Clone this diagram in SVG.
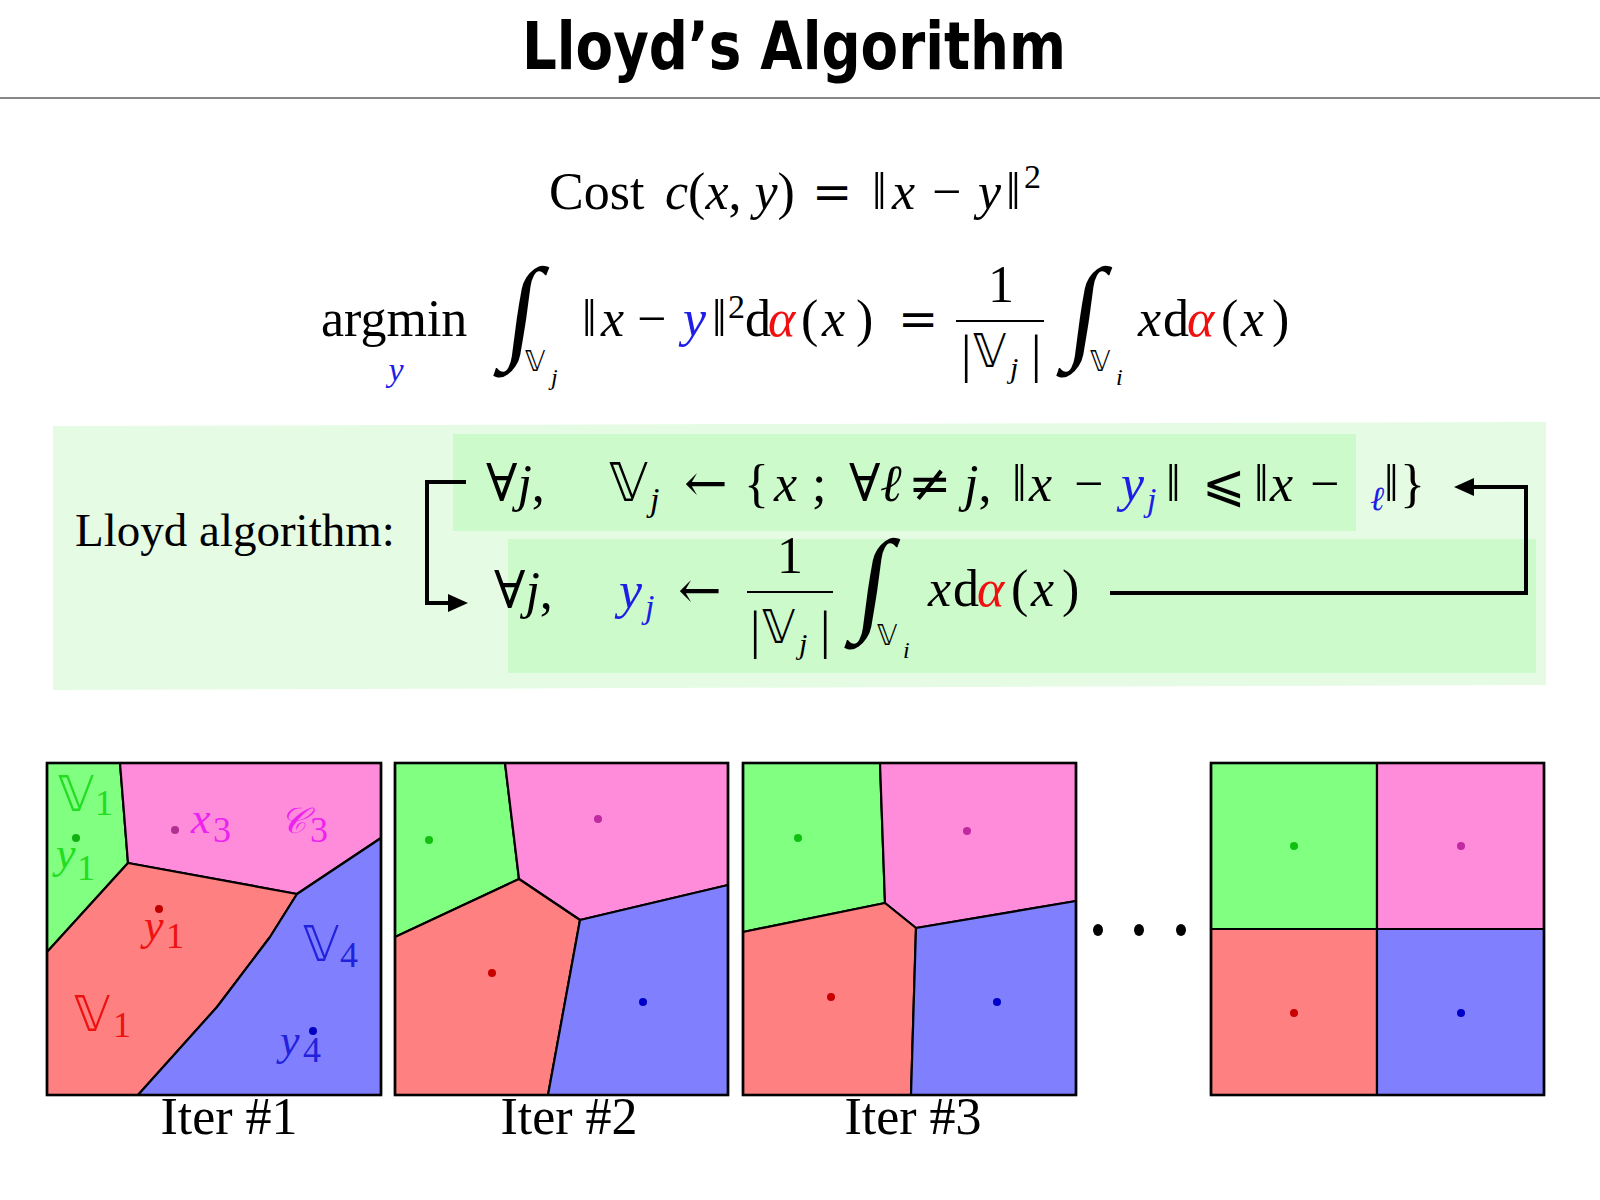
<svg xmlns="http://www.w3.org/2000/svg" width="1600" height="1200" viewBox="0 0 1600 1200">
<defs>
<style>
.m{font-family:"Liberation Serif","DejaVu Serif","DejaVu Sans",serif;font-size:52px;fill:#000}
.i{font-style:italic}
.bb{font-family:"DejaVu Sans","DejaVu Serif",sans-serif;font-style:normal}
.op{font-family:"DejaVu Serif","Liberation Serif",serif;font-style:normal}
.blue{fill:#1e1ee6}
.red{fill:#f01010}
.int{font-family:"Liberation Serif","DejaVu Serif",serif;font-size:60px}
.lbl{font-family:"Liberation Serif","DejaVu Serif",serif;font-size:44px}
.cell{stroke:#000;stroke-width:2.2;stroke-linejoin:round}
.frame{fill:none;stroke:#000;stroke-width:2.6}
.g{fill:#80ff80}.p{fill:#ff8bdb}.r{fill:#ff8080}.b{fill:#8080ff}
.conn{fill:none;stroke:#000;stroke-width:4}
</style>
<marker id="ah" markerUnits="userSpaceOnUse" markerWidth="20" markerHeight="18" refX="0" refY="9" orient="auto">
<path d="M0,0 L20,9 L0,18 z" fill="#000"/>
</marker>
</defs>
<rect width="1600" height="1200" fill="#fff"/>

<g id="title">
<text x="522" y="69" font-family="DejaVu Sans,sans-serif" font-weight="bold" font-size="66" textLength="544" lengthAdjust="spacingAndGlyphs">Lloyd’s Algorithm</text>
<line x1="0" y1="98" x2="1600" y2="98" stroke="#888" stroke-width="2"/>
</g>

<g id="eq-cost" class="m">
<text y="209"><tspan x="549">Cost</tspan><tspan x="665" class="i">c</tspan><tspan>(</tspan><tspan class="i">x</tspan><tspan>, </tspan><tspan class="i">y</tspan><tspan>)</tspan></text>
<text x="812" y="209" class="op" font-size="48">=</text>
<text y="209"><tspan x="872">‖</tspan><tspan x="892" class="i">x</tspan><tspan x="932">−</tspan><tspan x="978" class="i">y</tspan><tspan x="1006">‖</tspan></text>
<text x="1024" y="188" font-size="34">2</text>
</g>

<g id="eq-argmin" class="m">
<text x="321" y="336">argmin</text>
<text x="396" y="381" class="i blue" font-size="34" text-anchor="middle">y</text>
<text class="int" transform="translate(503,347) skewX(-8) scale(1.8,1.9)">∫</text>
<text x="525" y="371" class="bb" font-size="28">𝕍</text>
<text x="551" y="385" class="i" font-size="24">j</text>
<text y="336"><tspan x="582">‖</tspan><tspan x="601" class="i">x</tspan><tspan x="637">−</tspan><tspan x="683" class="i blue">y</tspan><tspan x="712">‖</tspan></text>
<text x="728" y="318" font-size="34">2</text>
<text y="336"><tspan x="745">d</tspan><tspan x="768" class="i red">α</tspan><tspan x="801">(</tspan><tspan x="822" class="i">x</tspan><tspan x="856">)</tspan></text>
<text x="898" y="336" class="op" font-size="48">=</text>
<text x="1001" y="302" text-anchor="middle">1</text>
<line x1="956" y1="321" x2="1044" y2="321" stroke="#000" stroke-width="2.2"/>
<text x="961" y="372">|</text>
<text x="973" y="367" class="bb" font-size="46">𝕍</text>
<text x="1010" y="378" class="i" font-size="30">j</text>
<text x="1031" y="372">|</text>
<text class="int" transform="translate(1066,347) skewX(-8) scale(1.8,1.9)">∫</text>
<text x="1090" y="371" class="bb" font-size="28">𝕍</text>
<text x="1116" y="385" class="i" font-size="24">i</text>
<text y="336"><tspan x="1138" class="i">x</tspan><tspan x="1163">d</tspan><tspan x="1187" class="i red">α</tspan><tspan x="1221">(</tspan><tspan x="1241" class="i">x</tspan><tspan x="1272">)</tspan></text>
</g>

<g id="lloyd-box">
<path d="M53,426 L1546,422 L1546,685 L53,690 z" fill="#e5fbe3"/>
<rect x="453" y="434" width="903" height="97" fill="#cdfacb"/>
<rect x="508" y="539" width="1028" height="134" fill="#cdfacb"/>
<text x="75" y="546" class="m" style="font-size:47px">Lloyd algorithm:</text>
</g>

<g id="step-assign" class="m">
<text y="501"><tspan x="486">∀</tspan><tspan class="i">j</tspan><tspan>,</tspan></text>
<text x="609" y="501" class="bb" font-size="54">𝕍</text>
<text x="650" y="511" class="i" font-size="34">j</text>
<text x="684" y="501" class="op">←</text>
<text y="501"><tspan x="744">{</tspan><tspan x="774" class="i">x</tspan><tspan x="812">;</tspan><tspan x="849">∀</tspan><tspan x="880" class="i">ℓ</tspan></text>
<text x="908" y="501" class="op">≠</text>
<text y="501"><tspan x="964" class="i">j</tspan><tspan>,</tspan><tspan x="1012">‖</tspan><tspan x="1029" class="i">x</tspan><tspan x="1074">−</tspan><tspan x="1121" class="i blue">y</tspan></text>
<text x="1147" y="511" class="i blue" font-size="34">j</text>
<text y="501"><tspan x="1166">‖</tspan><tspan x="1202">⩽</tspan><tspan x="1254">‖</tspan><tspan x="1270" class="i">x</tspan><tspan x="1310">−</tspan></text>
<text x="1370" y="510" class="i blue" font-size="34">ℓ</text>
<text y="501"><tspan x="1384">‖</tspan><tspan x="1400">}</tspan></text>
</g>

<g id="step-update" class="m">
<text y="608"><tspan x="494">∀</tspan><tspan class="i">j</tspan><tspan>,</tspan></text>
<text x="619" y="608" class="i blue">y</text>
<text x="645" y="618" class="i blue" font-size="34">j</text>
<text x="678" y="608" class="op">←</text>
<text x="790" y="573" text-anchor="middle">1</text>
<line x1="747" y1="592" x2="833" y2="592" stroke="#000" stroke-width="2.2"/>
<text x="750" y="648">|</text>
<text x="762" y="643" class="bb" font-size="46">𝕍</text>
<text x="799" y="654" class="i" font-size="30">j</text>
<text x="820" y="648">|</text>
<text class="int" transform="translate(854,619) skewX(-8) scale(1.8,1.9)">∫</text>
<text x="877" y="645" class="bb" font-size="28">𝕍</text>
<text x="903" y="658" class="i" font-size="24">i</text>
<text y="606"><tspan x="928" class="i">x</tspan><tspan x="953">d</tspan><tspan x="977" class="i red">α</tspan><tspan x="1011">(</tspan><tspan x="1031" class="i">x</tspan><tspan x="1062">)</tspan></text>
</g>

<g id="connectors">
<path class="conn" d="M466,482 H427 V603 H448" marker-end="url(#ah)"/>
<path class="conn" d="M1110,593 H1526 V487 H1474" marker-end="url(#ah)"/>
</g>

<g id="iter1">
<polygon class="cell g" points="47,763 120,763 128,863 47,952"/>
<polygon class="cell p" points="120,763 381,763 381,838 297,894 128,863"/>
<polygon class="cell r" points="47,952 128,863 297,894 270,937 217,1007 138,1095 47,1095"/>
<polygon class="cell b" points="381,838 381,1095 138,1095 217,1007 270,937 297,894"/>
<rect class="frame" x="47" y="763" width="334" height="332"/>
<circle cx="76" cy="838" r="4" fill="#10b010"/>
<circle cx="175" cy="830" r="4" fill="#b03090"/>
<circle cx="159" cy="909" r="4" fill="#c00000"/>
<circle cx="313" cy="1031" r="4" fill="#0000c0"/>
<g class="lbl" fill="#22dd22"><text x="58" y="811" class="bb" font-size="50">𝕍</text><text x="95" y="815" font-size="36">1</text>
<text x="56" y="868" class="i">y</text><text x="77" y="880" font-size="36">1</text></g>
<g class="lbl" fill="#ee22ee"><text x="191" y="833" class="i">x</text><text x="213" y="842" font-size="36">3</text>
<text x="280" y="833" class="i" font-size="36">𝒞</text><text x="310" y="842" font-size="36">3</text></g>
<g class="lbl" fill="#ee1111"><text x="144" y="940" class="i">y</text><text x="166" y="948" font-size="36">1</text>
<text x="74" y="1031" class="bb" font-size="50">𝕍</text><text x="113" y="1037" font-size="36">1</text></g>
<g class="lbl" fill="#2222dd"><text x="303" y="961" class="bb" font-size="50">𝕍</text><text x="340" y="967" font-size="36">4</text>
<text x="280" y="1055" class="i">y</text><text x="303" y="1062" font-size="36">4</text></g>
<text x="229" y="1134" class="m" text-anchor="middle">Iter #1</text>
</g>

<g id="iter2">
<polygon class="cell g" points="395,763 505,763 519,879 395,937"/>
<polygon class="cell p" points="505,763 728,763 728,885 580,920 519,879"/>
<polygon class="cell r" points="395,937 519,879 580,920 548,1095 395,1095"/>
<polygon class="cell b" points="580,920 728,885 728,1095 548,1095"/>
<rect class="frame" x="395" y="763" width="333" height="332"/>
<circle cx="429" cy="840" r="4" fill="#10c010"/>
<circle cx="598" cy="819" r="4" fill="#c02aa0"/>
<circle cx="492" cy="973" r="4" fill="#c80000"/>
<circle cx="643" cy="1002" r="4" fill="#0000c8"/>
<text x="569" y="1134" class="m" text-anchor="middle">Iter #2</text>
</g>

<g id="iter3">
<polygon class="cell g" points="743,763 880,763 885,903 743,932"/>
<polygon class="cell p" points="880,763 1076,763 1076,901 916,928 885,903"/>
<polygon class="cell r" points="743,932 885,903 916,928 911,1095 743,1095"/>
<polygon class="cell b" points="916,928 1076,901 1076,1095 911,1095"/>
<rect class="frame" x="743" y="763" width="333" height="332"/>
<circle cx="798" cy="838" r="4" fill="#10c010"/>
<circle cx="967" cy="831" r="4" fill="#c02aa0"/>
<circle cx="831" cy="997" r="4" fill="#c80000"/>
<circle cx="997" cy="1002" r="4" fill="#0000c8"/>
<text x="913" y="1134" class="m" text-anchor="middle">Iter #3</text>
</g>

<g id="ellipsis">
<ellipse cx="1098" cy="930" rx="5" ry="6" fill="#000"/>
<ellipse cx="1139" cy="930" rx="5" ry="6" fill="#000"/>
<ellipse cx="1181" cy="930" rx="5" ry="6" fill="#000"/>
</g>

<g id="final">
<rect class="cell g" x="1211" y="763" width="166" height="166"/>
<rect class="cell p" x="1377" y="763" width="167" height="166"/>
<rect class="cell r" x="1211" y="929" width="166" height="166"/>
<rect class="cell b" x="1377" y="929" width="167" height="166"/>
<rect class="frame" x="1211" y="763" width="333" height="332"/>
<circle cx="1294" cy="846" r="4" fill="#10c010"/>
<circle cx="1461" cy="846" r="4" fill="#c02aa0"/>
<circle cx="1294" cy="1013" r="4" fill="#c80000"/>
<circle cx="1461" cy="1013" r="4" fill="#0000c8"/>
</g>
</svg>
